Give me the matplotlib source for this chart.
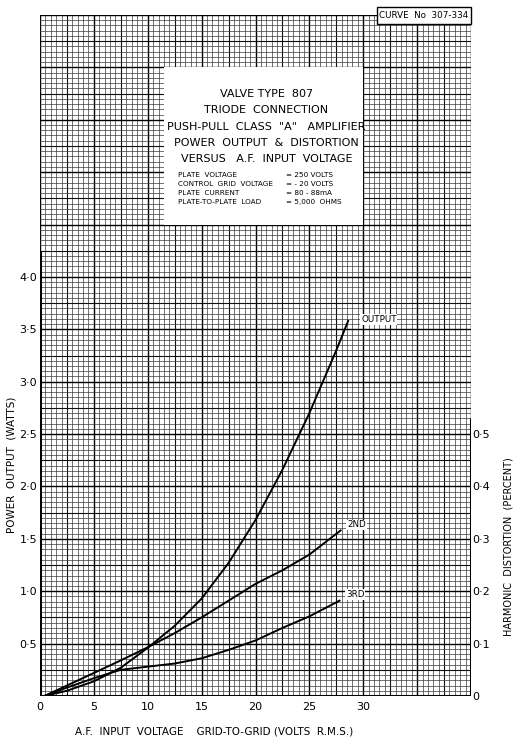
import numpy as np
import matplotlib
matplotlib.use("Agg")
import matplotlib.pyplot as plt
from matplotlib.patches import Rectangle

plt.rcParams['font.family'] = ['DejaVu Sans']

# ---- data ----
volts_out = [0.4, 2.5, 5, 7.5, 10, 12.5, 15, 17.5, 20, 22.5, 25, 27.5, 28.6]
power_out = [0.0, 0.05, 0.14, 0.27, 0.46, 0.67, 0.93, 1.27, 1.68, 2.16, 2.70, 3.30, 3.58]

volts_2nd = [0.4, 2.5, 5, 7.5, 10, 12.5, 15, 17.5, 20, 22.5, 25, 27.9]
dist_2nd = [0.0, 0.02, 0.044, 0.068, 0.093, 0.12, 0.15, 0.182, 0.214, 0.24, 0.27, 0.316]

volts_3rd = [0.4, 2.5, 5, 7.5, 10, 12.5, 15, 17.5, 20, 22.5, 25, 27.8]
dist_3rd = [0.0, 0.016, 0.034, 0.05, 0.056, 0.062, 0.072, 0.088, 0.106, 0.13, 0.152, 0.182]

x_ticks = [0, 5, 10, 15, 20, 25, 30]
x_labels = ['0', '5', '10', '15', '20', '25', '30']
y_ticks = [0.5, 1.0, 1.5, 2.0, 2.5, 3.0, 3.5, 4.0]
y_labels = ['0·5', '1·0', '1·5', '2·0', '2·5', '3·0', '3·5', '4·0']
r_ticks = [0, 0.1, 0.2, 0.3, 0.4, 0.5]
r_labels = ['0', '0·1', '0·2', '0·3', '0·4', '0·5']

title_lines = ['VALVE TYPE  807', 'TRIODE  CONNECTION', 'PUSH-PULL  CLASS  "A"   AMPLIFIER',
               'POWER  OUTPUT  &  DISTORTION', 'VERSUS   A.F.  INPUT  VOLTAGE']
param_names = ['PLATE  VOLTAGE', 'CONTROL  GRID  VOLTAGE', 'PLATE  CURRENT', 'PLATE-TO-PLATE  LOAD']
param_values = ['= 250 VOLTS', '= - 20 VOLTS', '= 80 - 88mA', '= 5,000  OHMS']

XMAX, YMAX = 40, 6.5

fig = plt.figure(figsize=(5.19, 7.44), dpi=100)
ax = fig.add_axes([40/519, 48/744, 431/519, 681/744])
ax.set_xlim(0, XMAX)
ax.set_ylim(0, YMAX)
for s in ax.spines.values():
    s.set_visible(False)

# graph-paper grid
def style(k):
    if k % 10 == 0:
        return 1.0, 'black'
    if k % 5 == 0:
        return 0.8, '#111111'
    return 0.5, '#3a3a3a'

for v in np.arange(0, XMAX + 0.01, 0.5):
    lw, c = style(round(v / 0.5))
    ax.axvline(v, color=c, lw=lw, zorder=1)
for w in np.arange(0, YMAX + 0.001, 0.05):
    lw, c = style(round(w / 0.05))
    ax.axhline(w, color=c, lw=lw, zorder=1)

# heavy axes lines
ax.plot([0, 0], [0, 4.25], color='black', lw=2.2, zorder=3, solid_capstyle='butt')
ax.plot([0, XMAX], [0, 0], color='black', lw=2.2, zorder=3, solid_capstyle='butt')
ax.plot([XMAX, XMAX], [0, 2.65], color='black', lw=2.2, zorder=3, solid_capstyle='butt')

# title box (blank area of the sheet)
ax.add_patch(Rectangle((11.5, 4.5), 18.5, 1.5, facecolor='white', edgecolor='none', zorder=4))
# curve number box
ax.add_patch(Rectangle((31.3, 6.41), 8.7, 0.17, facecolor='white', edgecolor='black',
                       lw=1.0, zorder=4, clip_on=False))
ax.text(35.6, 6.495, 'CURVE  No  307-334', ha='center', va='center', fontsize=6.3, zorder=5)

ax.set_xticks(x_ticks)
ax.set_xticklabels(x_labels, fontsize=8)
ax.set_yticks(y_ticks)
ax.set_yticklabels(y_labels, fontsize=8)
ax.tick_params(axis='both', length=0, pad=4)
ax.tick_params(axis='y', pad=2)

ax.set_xlabel('A.F.  INPUT  VOLTAGE    GRID-TO-GRID (VOLTS  R.M.S.)', fontsize=7.5)
ax.xaxis.set_label_coords(0.405, -0.045)
ax.set_ylabel('POWER  OUTPUT  (WATTS)', fontsize=7.5)
ax.yaxis.set_label_coords(-0.055, 0.34)

# distortion axis
ax2 = ax.twinx()
ax2.set_ylim(0, YMAX / 5)
for s in ax2.spines.values():
    s.set_visible(False)
ax2.set_yticks(r_ticks)
ax2.set_yticklabels(r_labels, fontsize=8)
ax2.tick_params(axis='y', length=0, pad=1)
ax2.set_ylabel('HARMONIC  DISTORTION  (PERCENT)', fontsize=7)
ax2.yaxis.set_label_coords(1.075, 0.22)

# curves
ax.plot(volts_out, power_out, color='black', lw=1.4, zorder=6)
ax2.plot(volts_2nd, dist_2nd, color='black', lw=1.4, zorder=6)
ax2.plot(volts_3rd, dist_3rd, color='black', lw=1.4, zorder=6)

ax.text(29.8, 3.55, 'OUTPUT', fontsize=6.3, va='bottom', ha='left', zorder=7,
        bbox=dict(facecolor='white', edgecolor='none', pad=0.5))
ax2.text(28.5, 0.318, '2ND', fontsize=6.3, va='bottom', ha='left', zorder=7,
         bbox=dict(facecolor='white', edgecolor='none', pad=0.5))
ax2.text(28.4, 0.185, '3RD', fontsize=6.3, va='bottom', ha='left', zorder=7,
         bbox=dict(facecolor='white', edgecolor='none', pad=0.5))

# title text
cx = 21.0
ys = [5.75, 5.59, 5.435, 5.28, 5.125]
for t, yy in zip(title_lines, ys):
    ax.text(cx, yy, t, ha='center', va='center', fontsize=8, zorder=5)
pys = [4.97, 4.885, 4.80, 4.715]
for n, v, yy in zip(param_names, param_values, pys):
    ax.text(12.8, yy, n, ha='left', va='center', fontsize=5.2, zorder=5)
    ax.text(22.8, yy, v, ha='left', va='center', fontsize=5.2, zorder=5)

fig.savefig('out.png', dpi=100)
